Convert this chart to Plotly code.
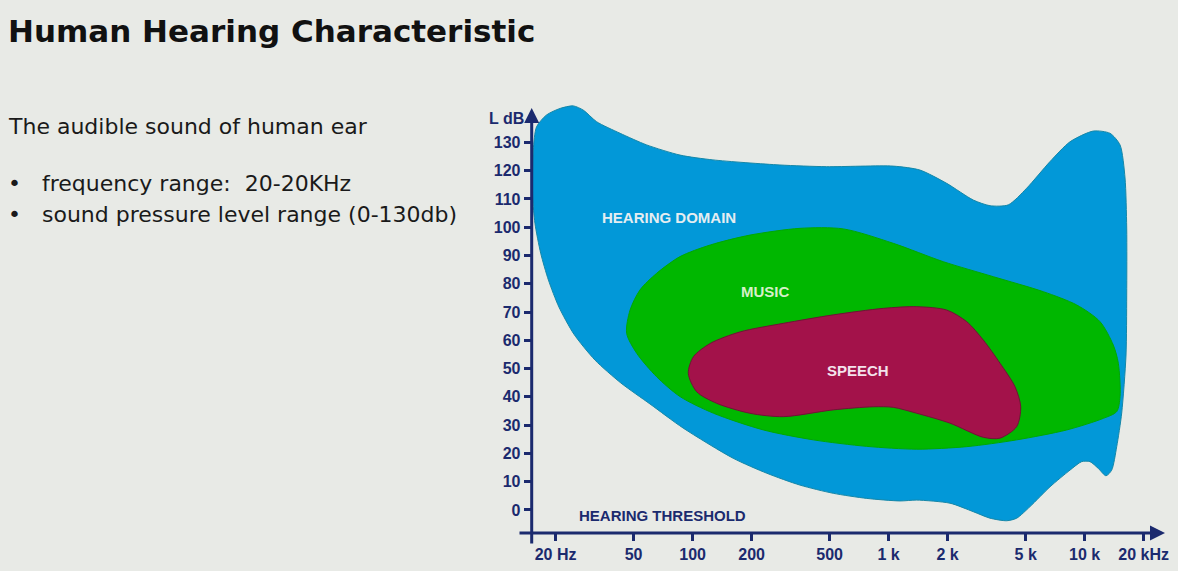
import numpy as np
import plotly.graph_objects as go

# outlines (frequency in Hz, level in dB)
hearing_freq = [15.3, 15.4, 16.0, 18.0, 21.1, 24.6, 27.7, 32.4, 42.7, 58.3, 86.3, 127, 279, 483,
                1056, 1445, 1978, 2703, 3290, 4078, 5062, 6655, 8415, 11066, 13465, 15146, 16062, 16383,
                16383, 16251, 15449, 14568, 13733, 12846, 11735, 10644, 9656, 8415, 6655, 5262, 4501, 4003,
                3290, 2703, 2056, 1391, 1143, 773, 522, 353, 239, 161, 89.4, 60.6, 43.1, 31.8, 24.8, 20.8,
                18.4, 16.8, 15.7, 15.3]
hearing_db = [110.8, 127.3, 135.5, 139.7, 142.0, 142.9, 141.4, 137.3, 133.2, 129.1, 125.5, 123.8,
              122.0, 121.4, 121.6, 120.2, 115.5, 109.6, 107.6, 107.9, 113.8, 123.2, 130.2, 134.0, 133.2, 129.1,
              117.4, 99.7, 76.0, 54.8, 34.3, 22.4, 14.1, 12.1, 14.7, 17.1, 17.1, 14.1, 8.2, 1.2, -2.9, -3.8,
              -2.9, -0.6, 2.4, 3.5, 3.2, 4.1, 5.9, 8.8, 13.0, 18.3, 29.0, 37.5, 44.9, 53.0, 62.2, 71.8,
              81.3, 90.8, 101.4, 110.8]

music_freq = [46.1, 48.0, 53.9, 65.6, 86.3, 123, 196, 353, 587, 1056, 1901, 3420, 6151, 9106, 11973, 13996,
              14845, 15146, 14568, 12445, 8096, 4501, 2502, 1391, 773, 413, 230, 128, 86.3, 65.6, 51.9, 46.1]
music_db = [62.5, 70.7, 77.8, 83.7, 89.6, 93.7, 97.2, 99.6, 99.4, 94.3, 87.8, 82.5, 77.2, 72.5, 66.6, 58.3,
            51.9, 40.1, 34.8, 32.4, 28.3, 24.8, 22.4, 21.5, 22.5, 24.8, 28.3, 34.2, 40.1, 47.1, 55.4, 62.5]

speech_freq = [95.1, 101, 123, 175, 290, 522, 939, 1391, 1978, 2502, 3040, 3700, 4412, 4718, 4501, 3700,
               3040, 2056, 1391, 1056, 835, 522, 290, 196, 133, 105, 95.1]
speech_db = [48.3, 54.2, 58.9, 63.0, 66.0, 69.0, 71.3, 71.9, 70.7, 66.6, 60.1, 51.9, 43.6, 36.5, 29.5, 25.4,
             25.7, 30.7, 34.2, 36.3, 36.5, 35.4, 33.0, 34.2, 37.7, 41.8, 48.3]

# axis ticks
x_ticks = [20, 50, 100, 200, 500, 1000, 2000, 5000, 10000, 20000]
x_tick_text = ['20 Hz', '50', '100', '200', '500', '1 k', '2 k', '5 k', '10 k', '20 kHz']
y_ticks = list(range(0, 140, 10))

# region labels
label_text = ['HEARING DOMAIN', 'MUSIC', 'SPEECH', 'HEARING THRESHOLD']
label_freq = [76, 235, 700, 70]
label_db = [103.4, 77.4, 49.3, -2.0]

navy = '#1b2a6e'
bg = '#e8eae6'
label_colors = ['#e4edf1', '#d6f0c8', '#f3e2ec', navy]

fig = go.Figure()
fig.add_trace(go.Scatter(x=hearing_freq, y=hearing_db, mode='lines', fill='toself',
                         fillcolor='#0298d8', line=dict(color='#1587a8', width=1, shape='spline', smoothing=0.7),
                         hoverinfo='skip', showlegend=False))
fig.add_trace(go.Scatter(x=music_freq, y=music_db, mode='lines', fill='toself',
                         fillcolor='#00b700', line=dict(color='#00a800', width=1, shape='spline', smoothing=0.8),
                         hoverinfo='skip', showlegend=False))
fig.add_trace(go.Scatter(x=speech_freq, y=speech_db, mode='lines', fill='toself',
                         fillcolor='#a3124a', line=dict(color='#6e1535', width=1, shape='spline', smoothing=0.8),
                         hoverinfo='skip', showlegend=False))

for txt, f, db, col in zip(label_text, label_freq, label_db, label_colors):
    fig.add_annotation(x=np.log10(f), y=db, xref='x', yref='y', text=txt, showarrow=False,
                       xanchor='center', yanchor='middle',
                       font=dict(family='Liberation Sans, Arial', size=15, color=col, weight='bold'))

# axis lines with arrow heads
fig.add_annotation(x=0.45136, y=1 - 108 / 571, xref='paper', yref='paper', ax=0, ay=437, text='',
                   showarrow=True, arrowhead=2, arrowsize=1, arrowwidth=3, arrowcolor=navy, standoff=0)
fig.add_annotation(x=1165 / 1178, y=1 - 533 / 571, xref='paper', yref='paper', ax=-647, ay=0, text='',
                   showarrow=True, arrowhead=2, arrowsize=1, arrowwidth=3, arrowcolor=navy, standoff=0)
fig.add_annotation(x=506 / 1178, y=1 - 119 / 571, xref='paper', yref='paper', text='L dB', showarrow=False,
                   xanchor='center', yanchor='middle',
                   font=dict(family='Liberation Sans, Arial', size=16, color=navy, weight='bold'))

# slide text
fig.add_annotation(x=6 / 1178, y=1 - 31 / 571, xref='paper', yref='paper', xanchor='left', yanchor='middle',
                   text='Human Hearing Characteristic', showarrow=False,
                   font=dict(family='DejaVu Sans', size=31, color='#111111', weight='bold'))
fig.add_annotation(x=6 / 1178, y=1 - 126 / 571, xref='paper', yref='paper', xanchor='left', yanchor='middle',
                   text='The audible sound of human ear', showarrow=False,
                   font=dict(family='DejaVu Sans', size=22, color='#1a1a1a'))
bullets = ['frequency range:  20-20KHz', 'sound pressure level range (0-130db)']
for i, b in enumerate(bullets):
    yy = 1 - (184 + 30 * i) / 571
    fig.add_annotation(x=6 / 1178, y=yy, xref='paper', yref='paper', xanchor='left', yanchor='middle',
                       text='•', showarrow=False, font=dict(family='DejaVu Sans', size=22, color='#1a1a1a'))
    fig.add_annotation(x=40 / 1178, y=yy, xref='paper', yref='paper', xanchor='left', yanchor='middle',
                       text=b.replace('  ', '&nbsp; '), showarrow=False,
                       font=dict(family='DejaVu Sans', size=22, color='#1a1a1a'))

fig.update_layout(width=1178, height=571, margin=dict(l=0, r=0, t=0, b=0),
                  paper_bgcolor=bg, plot_bgcolor=bg,
                  xaxis=dict(type='log', domain=[518 / 1178, 1170 / 1178], range=[1.1095, 4.4352],
                             anchor='free', position=1 - 533 / 571, showline=False, showgrid=False,
                             zeroline=False, tickvals=x_ticks, ticktext=x_tick_text, ticks='outside',
                             ticklen=7, tickwidth=2.5, tickcolor=navy,
                             tickfont=dict(family='Liberation Sans, Arial', size=16, color=navy, weight='bold')),
                  yaxis=dict(domain=[1 - 545 / 571, 1 - 100 / 571], range=[-12.38, 144.98],
                             anchor='free', position=531.7 / 1178, showline=False, showgrid=False,
                             zeroline=False, tickvals=y_ticks, ticks='outside', ticklen=8, tickwidth=2.5,
                             tickcolor=navy,
                             tickfont=dict(family='Liberation Sans, Arial', size=16, color=navy, weight='bold')))

# the page body has a default margin, drop it so the figure fills the window
fig.write_html("out.html", config={'displayModeBar': False},
               post_script="document.body.style.margin='0';document.body.style.overflow='hidden';")
